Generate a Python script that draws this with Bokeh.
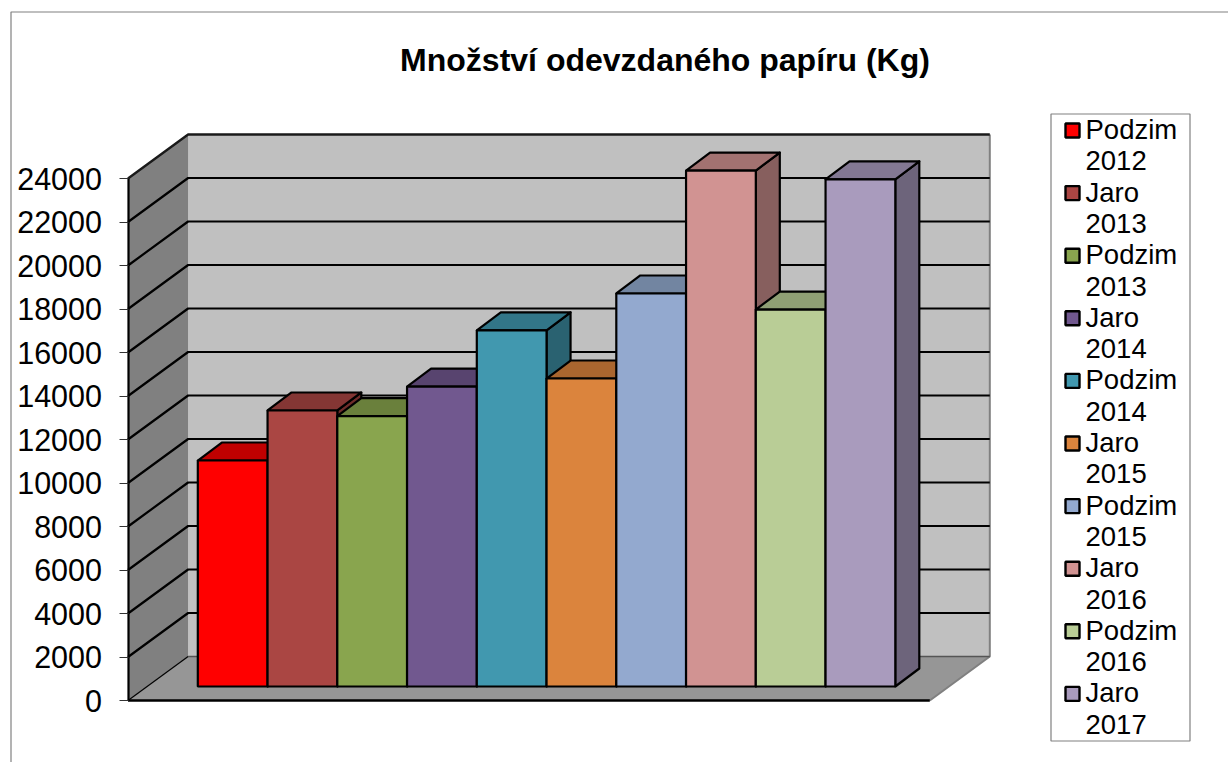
from bokeh.plotting import figure
from bokeh.models import Range1d, FixedTicker
from bokeh.core.properties import value
from bokeh.embed import file_html
from bokeh.resources import INLINE

TITLE = "Množství odevzdaného papíru (Kg)"
seasons = ["Podzim", "Jaro", "Podzim", "Jaro", "Podzim", "Jaro", "Podzim", "Jaro", "Podzim", "Jaro"]
years = ["2012", "2013", "2013", "2014", "2014", "2015", "2015", "2016", "2016", "2017"]
paper_kg = [10390, 12690, 12430, 13790, 16370, 14160, 18070, 23720, 17330, 23320]
front_colors = ["#FF0000", "#AA4643", "#89A54E", "#71588F", "#4198AF",
                "#DB843D", "#93A9CF", "#D19392", "#B9CD96", "#A99BBD"]
top_colors = ["#C00000", "#843634", "#6A803C", "#58446F", "#327688",
              "#AA662F", "#7285A1", "#A27271", "#8F9F74", "#837893"]
side_colors = ["#A00000", "#6F2D2B", "#586B32", "#49395D", "#2A6271",
               "#8E5527", "#5F6F87", "#875F5E", "#788561", "#6D647B"]
tick_values = list(range(0, 24001, 2000))

FONT = "Liberation Sans"
W, H = 1228, 762
BAR_LEFT, SLOT = 197.3, 69.75    # page px of the first bar, px per category
AXIS_Y0, KG_PX = 700.0, 0.02175  # page px of value 0 on the front plane, px per kg


def X(px):
    return (px - BAR_LEFT) / SLOT


def Y(py):
    return (AXIS_Y0 - py) / KG_PX


p = figure(width=W, height=H, output_backend="svg", toolbar_location=None,
           x_range=Range1d(X(0), X(W)), y_range=Range1d(Y(H), Y(0)),
           x_axis_type=None, min_border=0, min_border_left=0, min_border_right=0,
           min_border_top=0, min_border_bottom=0, outline_line_color=None)
p.grid.visible = False

# projection of the 3D box, in data units
WALL_L, WALL_R, FRONT_L, FRONT_R = X(187.6), X(989.3), X(127.5), X(929.3)
DY = 44 / KG_PX
BAR_DX, BAR_DY = 24 / SLOT, 18 / KG_PX
BAR_BASE = Y(686)
vmax = tick_values[-1]

# chart-area border
p.line([X(10.5), X(10.5), X(1228)], [Y(762), Y(11.5), Y(11.5)], line_color="#808080", line_width=1.2)

# walls and floor
p.patch([WALL_L, WALL_R, WALL_R, WALL_L], [DY, DY, vmax + DY, vmax + DY], fill_color="#C0C0C0", line_color=None)
p.patch([FRONT_L, WALL_L, WALL_L, FRONT_L], [0, DY, vmax + DY, vmax], fill_color="#808080", line_color=None)
p.patch([FRONT_L, WALL_L, WALL_R, FRONT_R], [0, DY, DY, 0], fill_color="#969696", line_color=None)
p.line([WALL_R, WALL_R, FRONT_R], [vmax + DY, DY, 0], line_color="#808080", line_width=2)
p.line([WALL_L, WALL_R], [DY, DY], line_color="#555555", line_width=1.5)
p.line([FRONT_L, WALL_L], [0, DY], line_color="#000000", line_width=1.2)
p.line([FRONT_L, WALL_L, WALL_R], [vmax, vmax + DY, vmax + DY], line_color="#1a1a1a", line_width=2.4)

# gridlines
grid_t = tick_values[1:-1]
p.multi_line([[FRONT_L, WALL_L, WALL_R] for _ in grid_t],
             [[t, t + DY, t + DY] for t in grid_t], line_color="#000000", line_width=2.2)
p.line([FRONT_L, FRONT_R], [0, 0], line_color="#000000", line_width=2.6)

# bars, left to right
for i, v in enumerate(paper_kg):
    top = BAR_BASE + v
    p.patch([i + 1, i + 1 + BAR_DX, i + 1 + BAR_DX, i + 1],
            [BAR_BASE, BAR_BASE + BAR_DY, top + BAR_DY, top],
            fill_color=side_colors[i], line_color="#000000", line_width=2.2, line_join="round")
    p.patch([i, i + BAR_DX, i + 1 + BAR_DX, i + 1],
            [top, top + BAR_DY, top + BAR_DY, top],
            fill_color=top_colors[i], line_color="#000000", line_width=2.2, line_join="round")
    p.quad(left=i, right=i + 1, bottom=BAR_BASE, top=top,
           fill_color=front_colors[i], line_color="#000000", line_width=2.2)

# value axis, drawn on the front-left edge of the box
ax = p.yaxis[0]
ax.fixed_location = FRONT_L
ax.bounds = (0, vmax)
ax.ticker = FixedTicker(ticks=tick_values)
ax.minor_tick_line_color = None
ax.major_tick_in = 0
ax.major_tick_out = 9
ax.major_tick_line_color = "#333333"
ax.major_tick_line_width = 1
ax.axis_line_color = "#000000"
ax.axis_line_width = 2.2
ax.major_label_standoff = 17
ax.major_label_text_font = FONT
ax.major_label_text_font_size = "30.5px"
ax.major_label_text_color = "#000000"
ax.formatter.use_scientific = False

# title
p.text([X(664.5)], [Y(59)], text=[TITLE], text_font=value(FONT), text_font_size="32px",
       text_font_style="bold", text_align="center", text_baseline="alphabetic", text_color="#000000")

# legend
p.quad(left=X(1050.5), right=X(1189.5), bottom=Y(740.5), top=Y(113.5),
       fill_color="#FFFFFF", line_color="#808080", line_width=1.2)
for i in range(len(years)):
    base = 138 + 62.6 * i
    p.quad(left=X(1065), right=X(1079), bottom=Y(base - 1), top=Y(base - 15),
           fill_color=front_colors[i], line_color="#000000", line_width=2.4)
    p.text([X(1085), X(1085)], [Y(base - 9), Y(base + 22.3)], text=[seasons[i], years[i]],
           text_font=value(FONT), text_font_size="27.5px", text_align="left",
           text_baseline="alphabetic", text_color="#000000")

open("out.html", "w").write(file_html(p, INLINE))
